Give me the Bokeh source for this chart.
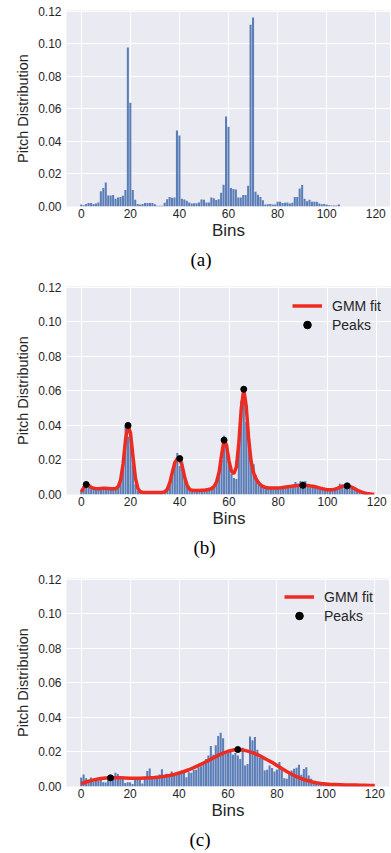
from bokeh.plotting import figure
from bokeh.layouts import column
from bokeh.models import Title, Legend, LegendItem, FixedTicker, Range1d, NumeralTickFormatter
from bokeh.embed import file_html
from bokeh.resources import INLINE

bins = list(range(120))
x_ticks = [0, 20, 40, 60, 80, 100, 120]
y_ticks = [0.0, 0.02, 0.04, 0.06, 0.08, 0.10, 0.12]

dist_a = [0.0012, 0.0008, 0.0016, 0.0021, 0.0021, 0.0016, 0.0019, 0.0025, 0.0093, 0.0113,
          0.0148, 0.0068, 0.0068, 0.0070, 0.0047, 0.0056, 0.0058, 0.0066, 0.0101, 0.0978,
          0.0638, 0.0101, 0.0041, 0.0016, 0.0012, 0.0016, 0.0021, 0.0021, 0.0021, 0.0021,
          0.0014, 0.0004, 0.0004, 0.0004, 0.0023, 0.0045, 0.0058, 0.0054, 0.0055, 0.0468,
          0.0437, 0.0047, 0.0043, 0.0035, 0.0025, 0.0018, 0.0020, 0.0020, 0.0025, 0.0043,
          0.0042, 0.0025, 0.0025, 0.0055, 0.0050, 0.0040, 0.0045, 0.0085, 0.0133, 0.0553,
          0.0490, 0.0113, 0.0107, 0.0105, 0.0056, 0.0056, 0.0070, 0.0070, 0.0128, 0.1117,
          0.1162, 0.0090, 0.0072, 0.0058, 0.0039, 0.0012, 0.0014, 0.0016, 0.0012, 0.0012,
          0.0029, 0.0029, 0.0021, 0.0023, 0.0025, 0.0019, 0.0023, 0.0058, 0.0058, 0.0111,
          0.0132, 0.0047, 0.0033, 0.0041, 0.0029, 0.0029, 0.0029, 0.0019, 0.0014, 0.0016,
          0.0012, 0.0008, 0.0006, 0.0006, 0.0006, 0.0012, 0.0, 0.0, 0.0, 0.0,
          0.0, 0.0, 0.0, 0.0, 0.0, 0.0, 0.0, 0.0, 0.0, 0.0]

dist_b = [0.0025, 0.0045, 0.0060, 0.0050, 0.0040, 0.0030, 0.0032, 0.0035, 0.0036, 0.0035,
          0.0037, 0.0034, 0.0033, 0.0030, 0.0032, 0.0050, 0.0095, 0.0215, 0.0400, 0.0335,
          0.0365, 0.0170, 0.0060, 0.0020, 0.0012, 0.0011, 0.0012, 0.0011, 0.0012, 0.0011,
          0.0012, 0.0012, 0.0012, 0.0013, 0.0015, 0.0030, 0.0065, 0.0120, 0.0190, 0.0240,
          0.0165, 0.0190, 0.0100, 0.0050, 0.0028, 0.0022, 0.0022, 0.0023, 0.0022, 0.0024,
          0.0025, 0.0026, 0.0030, 0.0037, 0.0050, 0.0072, 0.0120, 0.0200, 0.0340, 0.0290,
          0.0175, 0.0120, 0.0095, 0.0090, 0.0270, 0.0545, 0.0610, 0.0420, 0.0300, 0.0180,
          0.0175, 0.0110, 0.0075, 0.0060, 0.0050, 0.0045, 0.0040, 0.0038, 0.0036, 0.0035,
          0.0037, 0.0038, 0.0040, 0.0040, 0.0042, 0.0045, 0.0055, 0.0072, 0.0062, 0.0078,
          0.0075, 0.0078, 0.0060, 0.0050, 0.0042, 0.0040, 0.0038, 0.0035, 0.0033, 0.0032,
          0.0030, 0.0030, 0.0031, 0.0033, 0.0040, 0.0062, 0.0058, 0.0052, 0.0050, 0.0045,
          0.0038, 0.0030, 0.0025, 0.0018, 0.0012, 0.0008, 0.0004, 0.0002, 0.0001, 0.0]

gmm_b = [0.0015, 0.0040, 0.0058, 0.0052, 0.0042, 0.0036, 0.0034, 0.0034, 0.0035, 0.0036,
         0.0036, 0.0035, 0.0034, 0.0033, 0.0034, 0.0045, 0.0085, 0.0180, 0.0320, 0.0400,
         0.0355, 0.0220, 0.0095, 0.0035, 0.0016, 0.0012, 0.0011, 0.0011, 0.0011, 0.0011,
         0.0011, 0.0011, 0.0011, 0.0012, 0.0016, 0.0032, 0.0070, 0.0130, 0.0185, 0.0208,
         0.0205, 0.0165, 0.0100, 0.0052, 0.0030, 0.0024, 0.0023, 0.0023, 0.0023, 0.0024,
         0.0025, 0.0027, 0.0030, 0.0036, 0.0048, 0.0075, 0.0130, 0.0230, 0.0315, 0.0285,
         0.0195, 0.0135, 0.0120, 0.0160, 0.0300, 0.0500, 0.0610, 0.0510, 0.0320, 0.0190,
         0.0125, 0.0090, 0.0068, 0.0054, 0.0045, 0.0040, 0.0038, 0.0037, 0.0037, 0.0037,
         0.0038, 0.0039, 0.0041, 0.0043, 0.0045, 0.0047, 0.0049, 0.0050, 0.0052, 0.0053,
         0.0053, 0.0053, 0.0052, 0.0050, 0.0048, 0.0045, 0.0041, 0.0037, 0.0033, 0.0030,
         0.0028, 0.0027, 0.0028, 0.0031, 0.0036, 0.0042, 0.0047, 0.0050, 0.0050, 0.0047,
         0.0041, 0.0034, 0.0026, 0.0019, 0.0013, 0.0009, 0.0006, 0.0004, 0.0002, 0.0001]

peaks_b_x = [2, 19, 40, 58, 66, 90, 108]
peaks_b_y = [0.0058, 0.0400, 0.0208, 0.0315, 0.0610, 0.0053, 0.0050]

dist_c = [0.0052, 0.0070, 0.0048, 0.0039, 0.0052, 0.0030, 0.0035, 0.0033, 0.0039, 0.0025,
          0.0023, 0.0048, 0.0058, 0.0058, 0.0080, 0.0072, 0.0052, 0.0048, 0.0020, 0.0025,
          0.0025, 0.0015, 0.0045, 0.0048, 0.0052, 0.0017, 0.0048, 0.0090, 0.0105, 0.0045,
          0.0054, 0.0054, 0.0070, 0.0100, 0.0064, 0.0074, 0.0064, 0.0087, 0.0076, 0.0076,
          0.0083, 0.0074, 0.0080, 0.0054, 0.0083, 0.0080, 0.0095, 0.0097, 0.0112, 0.0118,
          0.0136, 0.0160, 0.0180, 0.0235, 0.0184, 0.0239, 0.0293, 0.0312, 0.0280, 0.0194,
          0.0194, 0.0200, 0.0184, 0.0194, 0.0180, 0.0160, 0.0225, 0.0122, 0.0130, 0.0290,
          0.0268, 0.0287, 0.0213, 0.0165, 0.0165, 0.0093, 0.0097, 0.0122, 0.0107, 0.0087,
          0.0099, 0.0142, 0.0107, 0.0048, 0.0045, 0.0083, 0.0093, 0.0103, 0.0109, 0.0126,
          0.0068, 0.0101, 0.0112, 0.0064, 0.0045, 0.0029, 0.0021, 0.0025, 0.0015, 0.0019,
          0.0015, 0.0013, 0.0012, 0.0010, 0.0008, 0.0008, 0.0008, 0.0010, 0.0012, 0.0005,
          0.0004, 0.0004, 0.0003, 0.0003, 0.0, 0.0, 0.0, 0.0, 0.0, 0.0]

gmm_c_x = list(range(0, 121, 2))
gmm_c = [0.0016, 0.0026, 0.0034, 0.0041, 0.0046, 0.0049, 0.0050, 0.0050, 0.0050, 0.0049,
         0.0048, 0.0048, 0.0048, 0.0049, 0.0050, 0.0052, 0.0055, 0.0059, 0.0064, 0.0070,
         0.0078, 0.0087, 0.0097, 0.0109, 0.0122, 0.0136, 0.0151, 0.0166, 0.0180, 0.0193,
         0.0204, 0.0211, 0.0214, 0.0212, 0.0205, 0.0196, 0.0185, 0.0170, 0.0155, 0.0140,
         0.0122, 0.0104, 0.0087, 0.0071, 0.0057, 0.0045, 0.0036, 0.0028, 0.0022, 0.0018,
         0.0015, 0.0012, 0.0011, 0.0010, 0.0009, 0.0008, 0.0008, 0.0007, 0.0007, 0.0006,
         0.0006]

peaks_c_x = [12, 64]
peaks_c_y = [0.0050, 0.0214]

BAR = "#4C72B0"
RED = "#EE2B20"
TXT = "#262626"
SANS = "Liberation Sans"


def make_fig(width, height, left, top, bottom):
    p = figure(width=width, height=height, x_range=Range1d(-6, 126), y_range=Range1d(0, 0.1205),
               output_backend="svg", toolbar_location=None,
               min_border_left=left, min_border_right=0, min_border_top=top, min_border_bottom=bottom)
    p.background_fill_color = "#EAEAF2"
    p.border_fill_color = "white"
    p.outline_line_color = None
    p.grid.grid_line_color = "white"
    p.grid.grid_line_width = 1
    p.xaxis.ticker = FixedTicker(ticks=x_ticks)
    p.yaxis.ticker = FixedTicker(ticks=y_ticks)
    p.yaxis.formatter = NumeralTickFormatter(format="0.00")
    for ax in (p.xaxis, p.yaxis):
        ax.axis_line_color = None
        ax.major_tick_line_color = None
        ax.minor_tick_line_color = None
        ax.major_tick_out = 0
        ax.major_tick_in = 0
        ax.major_label_text_font = SANS
        ax.major_label_text_font_size = "12px"
        ax.major_label_text_color = TXT
        ax.axis_label_text_font = SANS
        ax.axis_label_text_font_style = "normal"
        ax.axis_label_text_color = TXT
    p.xaxis.axis_label = "Bins"
    p.xaxis.axis_label_text_font_size = "17px"
    p.xaxis.major_label_standoff = 2
    p.xaxis.axis_label_standoff = 0
    p.yaxis.axis_label = "Pitch Distribution"
    p.yaxis.axis_label_text_font_size = "14.5px"
    p.yaxis.major_label_standoff = 5
    p.yaxis.axis_label_standoff = 4
    return p


def add_caption(p, text, offset):
    t = Title(text=text, align="left", offset=offset, text_font="Liberation Serif",
              text_font_size="19px", text_font_style="normal", text_color="black", standoff=8)
    p.add_layout(t, "below")


def add_gmm(p, gx, gy, px, py, margin, label_width):
    r_line = p.line(gx, gy, line_color=RED, line_width=3.5)
    r_pk = p.scatter(px, py, size=6, color="black")
    leg = Legend(items=[LegendItem(label="GMM fit", renderers=[r_line]),
                        LegendItem(label="Peaks", renderers=[r_pk])],
                 location="top_right", margin=margin, padding=5, spacing=0,
                 glyph_width=30, glyph_height=19, label_height=19, label_standoff=10,
                 label_width=label_width,
                 label_text_font=SANS, label_text_font_size="14px", label_text_color=TXT,
                 background_fill_alpha=0, border_line_color=None)
    p.add_layout(leg)


pa = make_fig(390, 277, 65, 10, 71)
pa.vbar(x=bins, top=dist_a, width=0.84, fill_color=BAR, fill_alpha=0.9, line_color=None)
add_caption(pa, "(a)", 124)

pb = make_fig(391, 291, 61, 9, 74)
pb.vbar(x=bins, top=dist_b, width=0.84, fill_color=BAR, fill_alpha=0.9, line_color=None)
add_gmm(pb, bins, gmm_b, peaks_b_x, peaks_b_y, 10, 20)
add_caption(pb, "(b)", 127)

pc = make_fig(389, 285, 66, 10, 67)
pc.vbar(x=bins, top=dist_c, width=0.84, fill_color=BAR, fill_alpha=0.9, line_color=None)
add_gmm(pc, gmm_c_x, gmm_c, peaks_c_x, peaks_c_y, 9, 56)
add_caption(pc, "(c)", 123)

layout = column(pa, pb, pc, spacing=0)
open("out.html", "w").write(file_html(layout, INLINE))
